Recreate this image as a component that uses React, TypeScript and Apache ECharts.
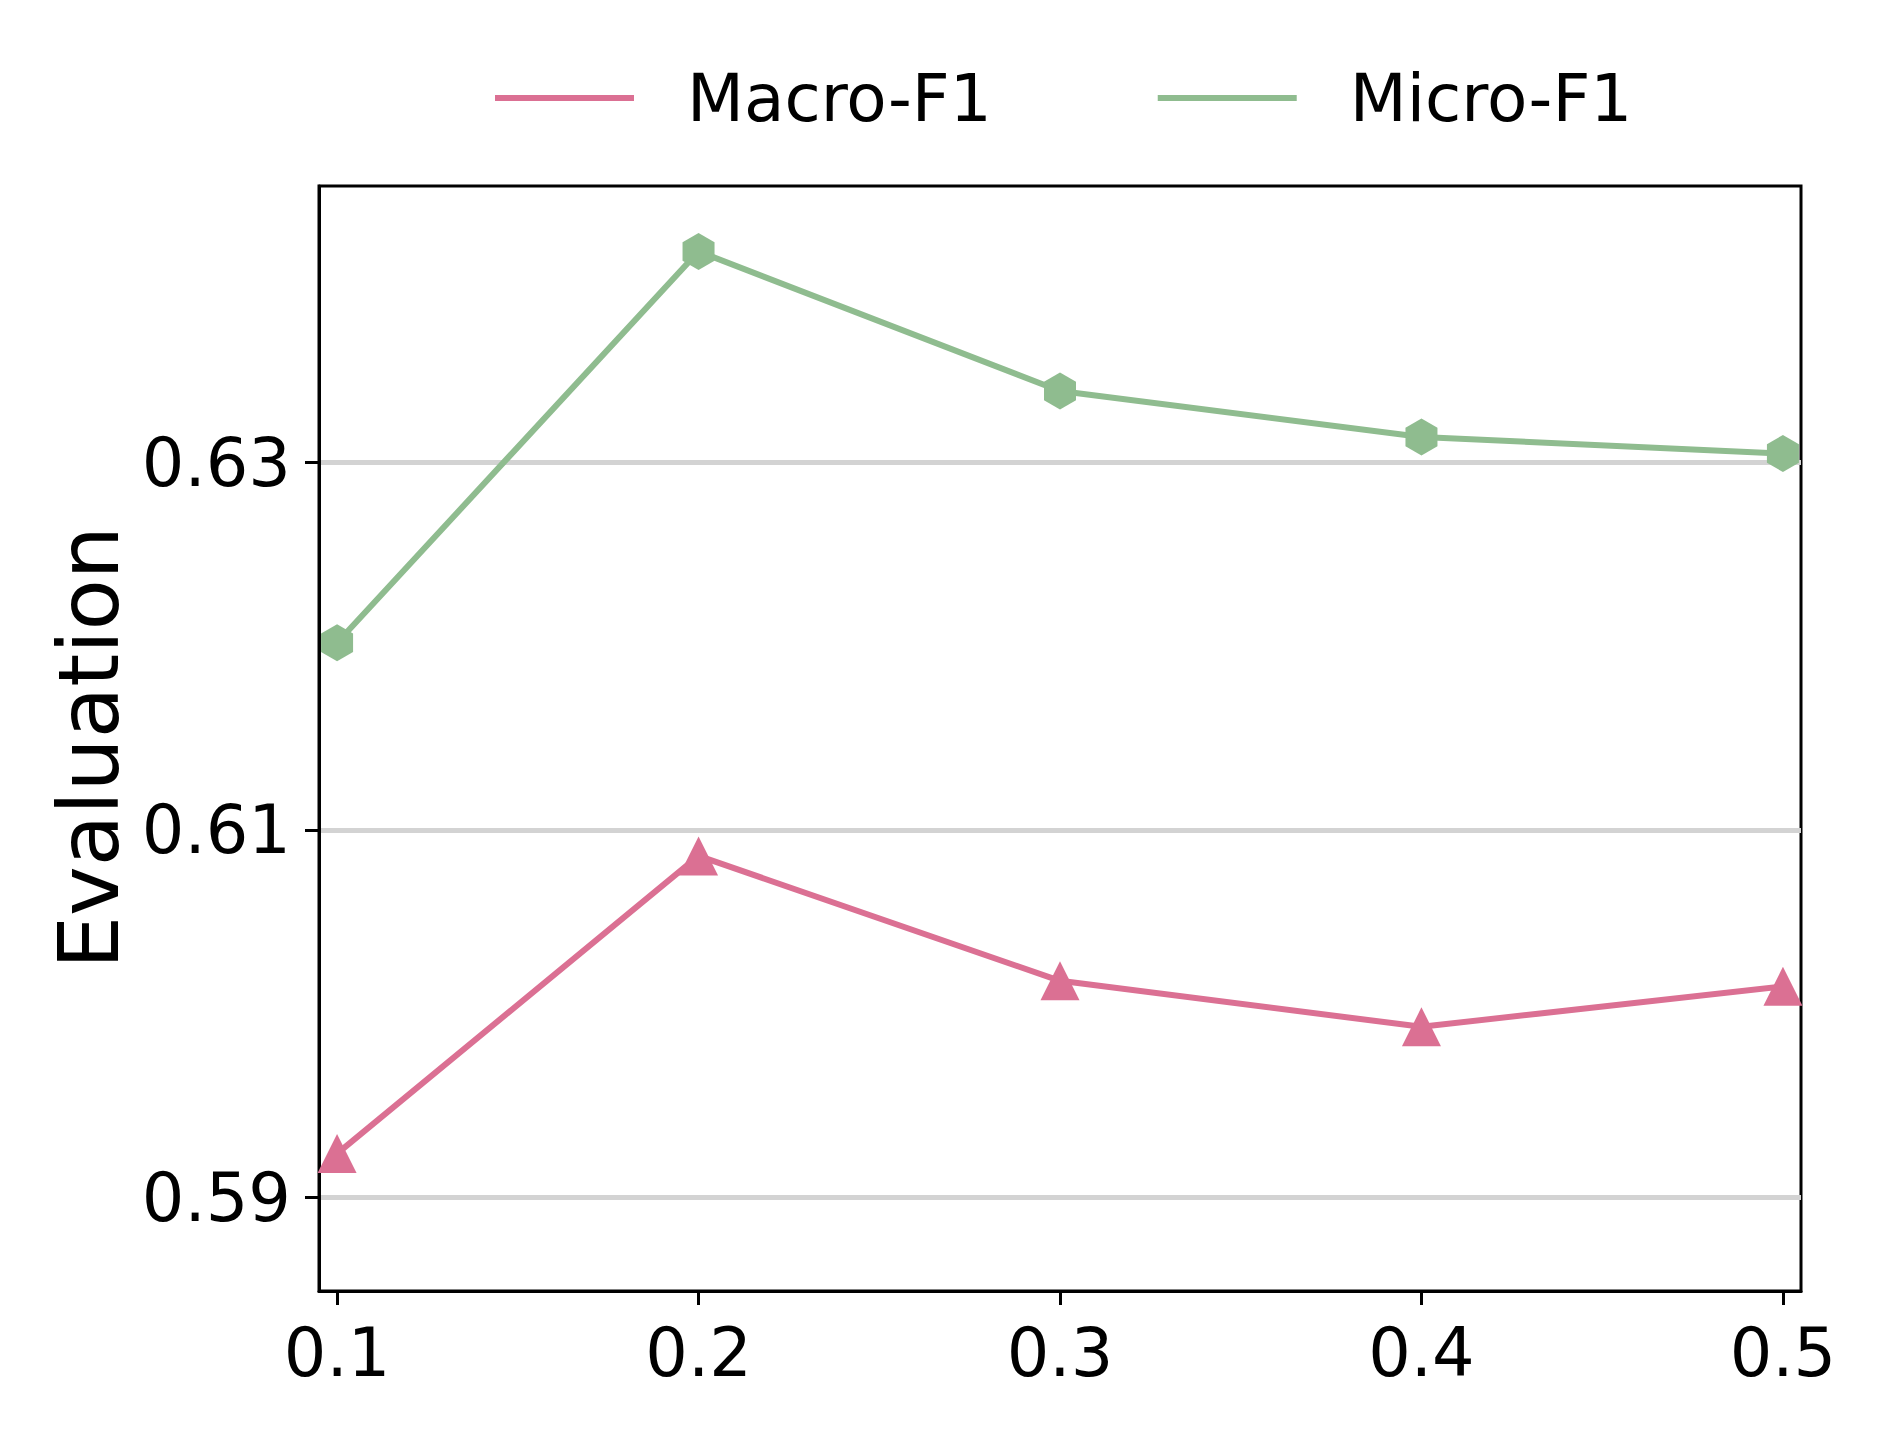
import React, { useEffect, useRef } from "react";
import * as echarts from "echarts";

const xValues = [0.1, 0.2, 0.3, 0.4, 0.5];
const macroF1 = [0.5924, 0.6086, 0.6018, 0.5993, 0.6015];
const microF1 = [0.6202, 0.6415, 0.6339, 0.6314, 0.6305];
const yTicks = [0.59, 0.61, 0.63];
const xTicks = [0.1, 0.2, 0.3, 0.4, 0.5];
const seriesNames = ["Macro-F1", "Micro-F1"];

const PINK = "#DB7093";
const GREEN = "#8FBC8F";
const FONT = "DejaVu Sans";

const HEX = "path://M0,-1 L0.866,-0.5 L0.866,0.5 L0,1 L-0.866,0.5 L-0.866,-0.5 Z";

export default function App() {
  const ref = useRef<HTMLDivElement>(null);
  useEffect(() => {
    document.body.style.margin = "0";
    if (!ref.current) return;
    const chart = echarts.init(ref.current, null, { renderer: "svg" });
    const pairs = (vals: number[]) => xValues.map((x, i) => [x, vals[i]]);
    chart.setOption({
      animation: false,
      backgroundColor: "#ffffff",
      textStyle: { fontFamily: FONT },
      legend: {
        data: seriesNames,
        left: 490,
        top: 60,
        icon: "rect",
        itemWidth: 139,
        itemHeight: 6,
        itemGap: 166,
        textStyle: {
          fontFamily: FONT,
          fontSize: 66,
          color: "#000",
          padding: [0, 0, 0, 48],
        },
      },
      grid: {
        left: 319,
        top: 186,
        width: 1482,
        height: 1105,
        show: true,
        borderColor: "#000",
        borderWidth: 3,
        backgroundColor: "transparent",
      },
      xAxis: {
        type: "value",
        min: 0.095,
        max: 0.505,
        axisLine: { show: true, onZero: false, lineStyle: { color: "#000", width: 3 } },
        axisTick: {
          show: true,
          length: 14,
          lineStyle: { color: "#000", width: 3 },
          customValues: xTicks,
        },
        axisLabel: {
          customValues: xTicks,
          fontFamily: FONT,
          fontSize: 67,
          color: "#000",
          margin: 28,
          formatter: (v: number) => v.toFixed(1),
        },
        splitLine: { show: false },
      },
      yAxis: {
        type: "value",
        min: 0.58492,
        max: 0.64506,
        name: "Evaluation",
        nameLocation: "middle",
        nameGap: 186,
        nameTextStyle: {
          fontFamily: FONT,
          fontSize: 84,
          color: "#000",
          padding: [0, 18, 0, 0],
        },
        axisLine: { show: true, lineStyle: { color: "#000", width: 3 } },
        axisTick: {
          show: true,
          length: 14,
          lineStyle: { color: "#000", width: 3 },
          customValues: yTicks,
        },
        axisLabel: {
          customValues: yTicks,
          fontFamily: FONT,
          fontSize: 67,
          color: "#000",
          margin: 28,
          formatter: (v: number) => v.toFixed(2),
        },
        splitLine: {
          show: true,
          lineStyle: { color: "#D3D3D3", width: 5 },
        },
      },
      series: [
        {
          name: seriesNames[0],
          type: "line",
          data: pairs(macroF1),
          symbol: "triangle",
          symbolSize: [39, 39],
          lineStyle: { color: PINK, width: 6 },
          itemStyle: { color: PINK },
          z: 3,
        },
        {
          name: seriesNames[1],
          type: "line",
          data: pairs(microF1),
          symbol: HEX,
          symbolSize: [32, 37],
          symbolKeepAspect: false,
          lineStyle: { color: GREEN, width: 6 },
          itemStyle: { color: GREEN },
          z: 3,
        },
      ],
    });
    return () => chart.dispose();
  }, []);
  return <div ref={ref} style={{ width: 1888, height: 1435 }} />;
}
